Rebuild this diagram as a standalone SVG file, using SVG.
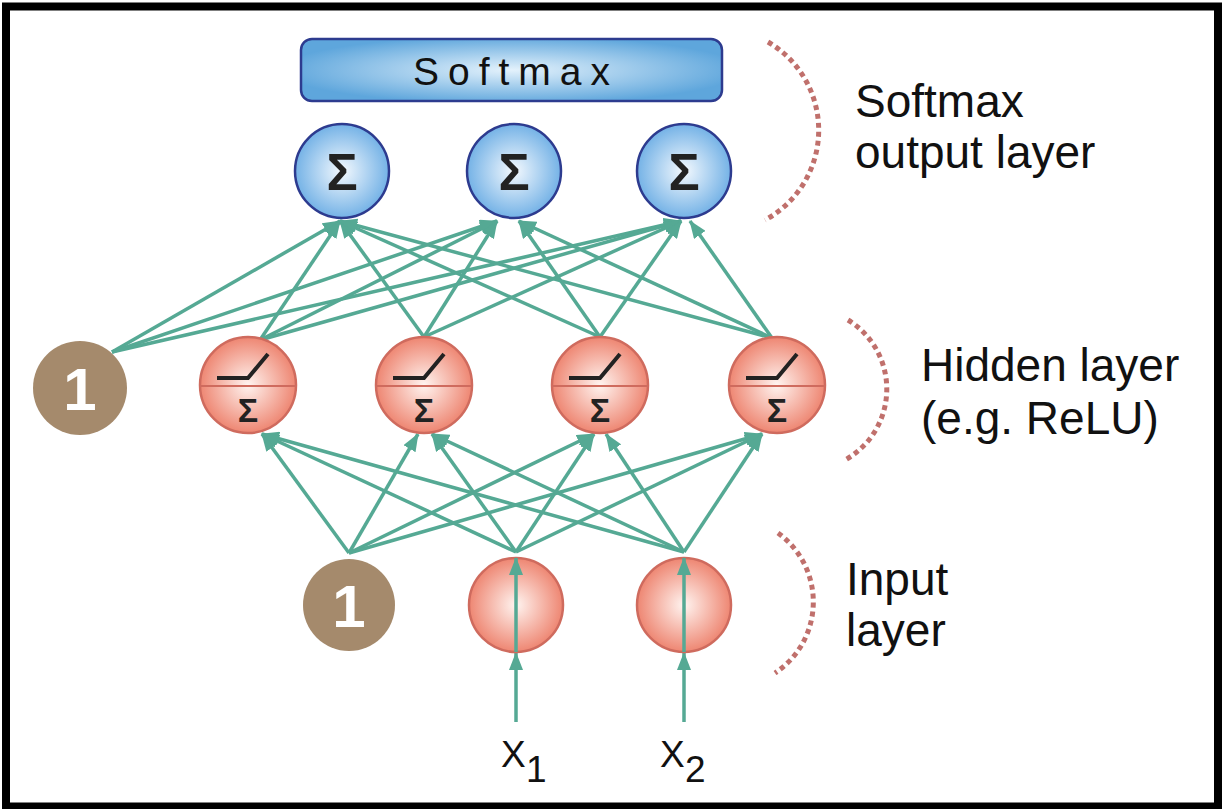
<svg xmlns="http://www.w3.org/2000/svg" width="1223" height="809" viewBox="0 0 1223 809">
<style>
.con{stroke:#55a994;stroke-width:3.5;fill:none;marker-end:url(#ah)}
.hid{fill:url(#gHid);stroke:#cf6b5e;stroke-width:2.5}
.out{fill:url(#gOut);stroke:#2d3b8f;stroke-width:2.5}
.bias{fill:#a58a6c}
.biast{font-family:"Liberation Sans",Arial,sans-serif;font-weight:bold;font-size:60px;fill:#fff;text-anchor:middle}
.sig{font-family:"Liberation Sans",Arial,sans-serif;font-weight:bold;fill:#222;text-anchor:middle}
.lbl{font-family:"Liberation Sans",Arial,sans-serif;font-size:46px;fill:#111}
.arc{fill:none;stroke:#c0706c;stroke-width:5;stroke-dasharray:5 4}
.ramp{fill:none;stroke:#222;stroke-width:4}
.div{stroke:#cf6b5e;stroke-width:2}
</style>
<defs>
<marker id="ah" markerUnits="userSpaceOnUse" markerWidth="18" markerHeight="14" refX="17" refY="7" orient="auto">
<path d="M0,0 L18,7 L0,14 z" fill="#55a994"/>
</marker>
<radialGradient id="gHid" cx="0.5" cy="0.5" r="0.5">
<stop offset="0" stop-color="#fff4f0"/>
<stop offset="1" stop-color="#ee8672"/>
</radialGradient>
<radialGradient id="gOut" cx="0.5" cy="0.5" r="0.5">
<stop offset="0" stop-color="#f4f9fe"/>
<stop offset="1" stop-color="#74b2e6"/>
</radialGradient>
<radialGradient id="gBox" cx="0.5" cy="0.5" r="0.55">
<stop offset="0" stop-color="#e4f2fc"/>
<stop offset="1" stop-color="#5ea6dc"/>
</radialGradient>
</defs>
<rect x="6" y="6.5" width="1212" height="800" fill="#fff" stroke="#000" stroke-width="8"/>

<g id="connectors">
<line class="con" x1="112" y1="352" x2="340" y2="221"/>
<line class="con" x1="112" y1="352" x2="497" y2="221"/>
<line class="con" x1="112" y1="352" x2="681" y2="221"/>
<line class="con" x1="260" y1="340" x2="340" y2="221"/>
<line class="con" x1="260" y1="340" x2="497" y2="221"/>
<line class="con" x1="260" y1="340" x2="681" y2="221"/>
<line class="con" x1="424" y1="337" x2="340" y2="221"/>
<line class="con" x1="424" y1="337" x2="497" y2="221"/>
<line class="con" x1="424" y1="337" x2="681" y2="221"/>
<line class="con" x1="600" y1="337" x2="340" y2="221"/>
<line class="con" x1="600" y1="337" x2="519" y2="221"/>
<line class="con" x1="600" y1="337" x2="681" y2="221"/>
<line class="con" x1="772" y1="338" x2="340" y2="221"/>
<line class="con" x1="772" y1="338" x2="519" y2="221"/>
<line class="con" x1="772" y1="338" x2="690" y2="221"/>
<line class="con" x1="349" y1="553" x2="262" y2="434"/>
<line class="con" x1="349" y1="553" x2="418" y2="434"/>
<line class="con" x1="349" y1="553" x2="594" y2="434"/>
<line class="con" x1="349" y1="553" x2="762" y2="434"/>
<line class="con" x1="516" y1="552" x2="262" y2="434"/>
<line class="con" x1="516" y1="552" x2="432" y2="434"/>
<line class="con" x1="516" y1="552" x2="594" y2="434"/>
<line class="con" x1="516" y1="552" x2="762" y2="434"/>
<line class="con" x1="684" y1="552" x2="262" y2="434"/>
<line class="con" x1="684" y1="552" x2="432" y2="434"/>
<line class="con" x1="684" y1="552" x2="606" y2="434"/>
<line class="con" x1="684" y1="552" x2="762" y2="434"/>
<line class="con" x1="516" y1="722" x2="516" y2="653"/>
<line class="con" x1="684" y1="722" x2="684" y2="653"/>
</g>

<g id="softmax">
<rect x="301" y="39" width="421" height="62" rx="11" fill="url(#gBox)" stroke="#2d3b8f" stroke-width="2.5"/>
<text x="516" y="85" font-family="Liberation Sans, Arial, sans-serif" font-size="39" letter-spacing="9" text-anchor="middle" fill="#111">Softmax</text>
</g>

<g id="out1"><circle class="out" cx="342" cy="171" r="47"/><text class="sig" x="342" y="190" font-size="52">Σ</text></g>
<g id="out2"><circle class="out" cx="514" cy="171" r="47"/><text class="sig" x="514" y="190" font-size="52">Σ</text></g>
<g id="out3"><circle class="out" cx="684" cy="171" r="47"/><text class="sig" x="684" y="190" font-size="52">Σ</text></g>

<g id="bias-hidden"><circle class="bias" cx="80" cy="388" r="47"/><text class="biast" x="80" y="410">1</text></g>

<g id="hid1"><circle class="hid" cx="248" cy="385" r="48"/><line class="div" x1="200" y1="386" x2="296" y2="386"/><path class="ramp" d="M217,378 H248 L268,354"/><text class="sig" x="248" y="422" font-size="34">Σ</text></g>
<g id="hid2"><circle class="hid" cx="424" cy="385" r="48"/><line class="div" x1="376" y1="386" x2="472" y2="386"/><path class="ramp" d="M393,378 H424 L444,354"/><text class="sig" x="424" y="422" font-size="34">Σ</text></g>
<g id="hid3"><circle class="hid" cx="600" cy="385" r="48"/><line class="div" x1="552" y1="386" x2="648" y2="386"/><path class="ramp" d="M569,378 H600 L620,354"/><text class="sig" x="600" y="422" font-size="34">Σ</text></g>
<g id="hid4"><circle class="hid" cx="777" cy="385" r="48"/><line class="div" x1="729" y1="386" x2="825" y2="386"/><path class="ramp" d="M746,378 H777 L797,354"/><text class="sig" x="777" y="422" font-size="34">Σ</text></g>

<g id="bias-input"><circle class="bias" cx="349" cy="605" r="46"/><text class="biast" x="349" y="627">1</text></g>
<g id="in1"><circle class="hid" cx="516" cy="605" r="47"/><line class="con" x1="516" y1="652" x2="516" y2="558"/></g>
<g id="in2"><circle class="hid" cx="684" cy="605" r="47"/><line class="con" x1="684" y1="652" x2="684" y2="558"/></g>

<g id="x-labels" font-family="Liberation Sans, Arial, sans-serif" font-size="37" fill="#111">
<text x="501" y="767">X</text><text x="526" y="782">1</text>
<text x="660" y="767">X</text><text x="685" y="782">2</text>
</g>

<g id="layer-labels">
<path class="arc" d="M768,42 A102,102 0 0 1 765,220"/>
<path class="arc" d="M848,320 A81,81 0 0 1 845,460"/>
<path class="arc" d="M778,533 A85,85 0 0 1 775,673"/>
<text class="lbl" x="855" y="117">Softmax</text>
<text class="lbl" x="855" y="168">output layer</text>
<text class="lbl" x="921" y="381">Hidden layer</text>
<text class="lbl" x="921" y="434">(e.g. ReLU)</text>
<text class="lbl" x="846" y="595">Input</text>
<text class="lbl" x="846" y="646">layer</text>
</g>
</svg>
